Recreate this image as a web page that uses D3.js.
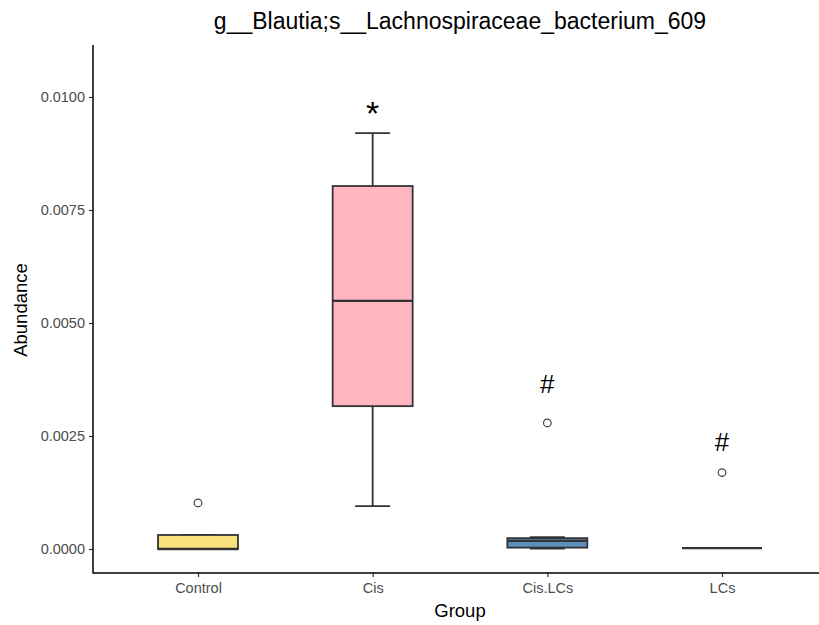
<!DOCTYPE html>
<html>
<head>
<meta charset="utf-8">
<script src="https://cdn.jsdelivr.net/npm/d3@7"></script>
<style>
  body { margin: 0; background: #fff; }
  svg { font-family: "Liberation Sans", Arial, sans-serif; }
</style>
</head>
<body>
<div id="chart"></div>
<script>
const groups = ["Control", "Cis", "Cis.LCs", "LCs"];
const fills = ["#f8e07c", "#ffb6c1", "#5b8fba", "#9fd39a"];
// five-number summaries: lower whisker, Q1, median, Q3, upper whisker
const lowerWhisker = [0.0, 0.00095, 0.00001, 0.00002];
const q1 = [0.0, 0.00316, 0.00003, 0.00002];
const median = [0.0, 0.00549, 0.00018, 0.00002];
const q3 = [0.00031, 0.00803, 0.00024, 0.00002];
const upperWhisker = [0.00031, 0.0092, 0.00026, 0.00002];
const outliers = [[0.00102], [], [0.00279], [0.00169]];
const marks = ["", "*", "#", "#"];
const markValues = [null, 0.00938, 0.00345, 0.00217];
const markSizes = [0, 34, 26, 26];
const yTicks = [0, 0.0025, 0.005, 0.0075, 0.01];

const width = 819, height = 625;
const mLeft = 93, mRight = 819, mTop = 45, mBottom = 573;

const svg = d3.select("#chart").append("svg")
  .attr("width", width).attr("height", height);

const x = d3.scalePoint().domain(groups).range([198, 722]);
const y = d3.scaleLinear().domain([-0.000531, 0.01115]).range([mBottom, mTop]);
const boxW = 80, capW = 35;

// axes
const yAxis = svg.append("g")
  .attr("transform", `translate(${mLeft},0)`)
  .call(d3.axisLeft(y).tickValues(yTicks).tickFormat(d3.format(".4f")).tickSize(4).tickPadding(4));
const xAxis = svg.append("g")
  .attr("transform", `translate(0,${mBottom})`)
  .call(d3.axisBottom(x).tickSize(4).tickPadding(6));

[yAxis, xAxis].forEach((a) => {
  a.select(".domain").remove();
  a.selectAll(".tick line").attr("stroke", "#333").attr("stroke-width", 1.2);
  a.selectAll(".tick text").attr("fill", "#4d4d4d").style("font-size", "14.5px");
});
svg.append("line").attr("x1", mLeft).attr("x2", mLeft).attr("y1", mTop).attr("y2", mBottom + 0.5)
  .attr("stroke", "#000").attr("stroke-width", 1.5);
svg.append("line").attr("x1", mLeft).attr("x2", mRight).attr("y1", mBottom).attr("y2", mBottom)
  .attr("stroke", "#000").attr("stroke-width", 1.5);

// boxes
const data = groups.map((g, i) => ({
  g, i, lo: lowerWhisker[i], q1: q1[i], med: median[i], q3: q3[i], hi: upperWhisker[i]
}));

const box = svg.append("g").selectAll("g").data(data).join("g");
const stroke = "#333";

box.append("line")
  .attr("x1", (d) => x(d.g)).attr("x2", (d) => x(d.g))
  .attr("y1", (d) => y(d.q3)).attr("y2", (d) => y(d.hi))
  .attr("stroke", stroke).attr("stroke-width", 1.8);
box.append("line")
  .attr("x1", (d) => x(d.g)).attr("x2", (d) => x(d.g))
  .attr("y1", (d) => y(d.q1)).attr("y2", (d) => y(d.lo))
  .attr("stroke", stroke).attr("stroke-width", 1.8);
// error bar caps
box.selectAll(".cap").data((d) => [d, d].map((v, k) => ({ g: d.g, v: k ? d.hi : d.lo })))
  .join("line").attr("class", "cap")
  .attr("x1", (d) => x(d.g) - capW / 2).attr("x2", (d) => x(d.g) + capW / 2)
  .attr("y1", (d) => y(d.v)).attr("y2", (d) => y(d.v))
  .attr("stroke", stroke).attr("stroke-width", 1.8);

box.append("rect")
  .attr("x", (d) => x(d.g) - boxW / 2).attr("width", boxW)
  .attr("y", (d) => y(d.q3)).attr("height", (d) => y(d.q1) - y(d.q3))
  .attr("fill", (d) => fills[d.i]).attr("stroke", stroke).attr("stroke-width", 1.8);
box.append("line")
  .attr("x1", (d) => x(d.g) - boxW / 2).attr("x2", (d) => x(d.g) + boxW / 2)
  .attr("y1", (d) => y(d.med)).attr("y2", (d) => y(d.med))
  .attr("stroke", stroke).attr("stroke-width", 2.4);

// outliers
box.selectAll("circle").data((d) => outliers[d.i].map((v) => ({ g: d.g, v })))
  .join("circle")
  .attr("cx", (d) => x(d.g)).attr("cy", (d) => y(d.v)).attr("r", 3.8)
  .attr("fill", "#fff").attr("stroke", "#444").attr("stroke-width", 1.2);

// significance marks
svg.append("g").selectAll("text").data(groups.filter((g, i) => marks[i]))
  .join("text")
  .attr("x", (g) => x(g))
  .attr("y", (g) => y(markValues[groups.indexOf(g)]))
  .attr("text-anchor", "middle")
  .style("font-size", (g) => markSizes[groups.indexOf(g)] + "px")
  .attr("fill", "#000")
  .text((g) => marks[groups.indexOf(g)]);

// titles
svg.append("text").attr("x", 460).attr("y", 29).attr("text-anchor", "middle")
  .style("font-size", "23px").text("g__Blautia;s__Lachnospiraceae_bacterium_609");
svg.append("text").attr("x", 460).attr("y", 617).attr("text-anchor", "middle")
  .style("font-size", "18.5px").text("Group");
svg.append("text").attr("transform", "translate(27,310) rotate(-90)").attr("text-anchor", "middle")
  .style("font-size", "18.5px").text("Abundance");
</script>
</body>
</html>
